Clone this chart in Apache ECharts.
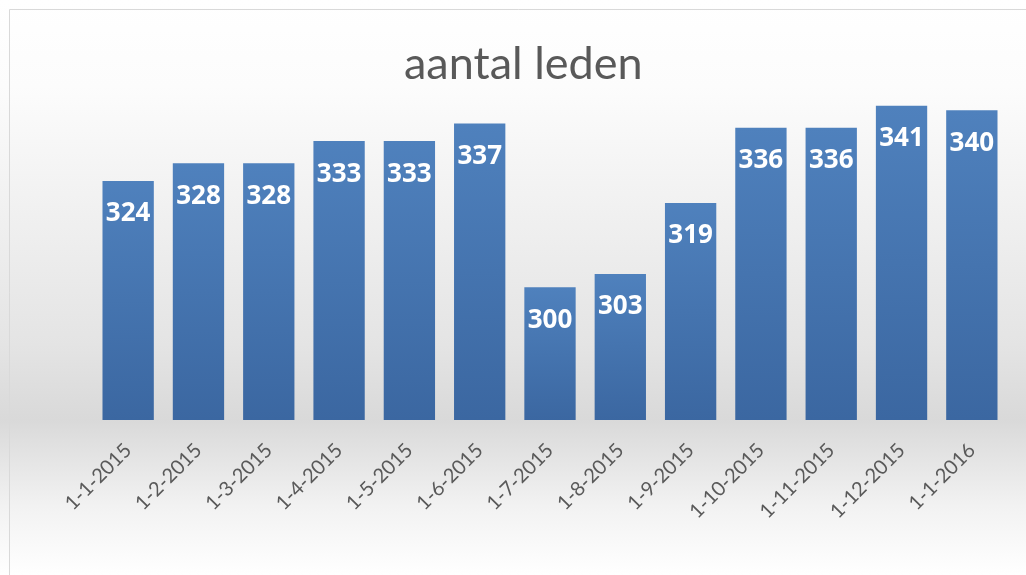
<!DOCTYPE html>
<html>
<head>
<meta charset="utf-8">
<title>aantal leden</title>
<script src="https://cdn.jsdelivr.net/npm/echarts@6/dist/echarts.min.js"></script>
<style>
  html, body { margin: 0; padding: 0; background: #fff; }
  #main { width: 1026px; height: 575px; }
</style>
</head>
<body>
<div id="main"></div>
<script>
// data
const maanden = ['1-1-2015', '1-2-2015', '1-3-2015', '1-4-2015', '1-5-2015', '1-6-2015',
  '1-7-2015', '1-8-2015', '1-9-2015', '1-10-2015', '1-11-2015', '1-12-2015', '1-1-2016'];
const leden = [324, 328, 328, 333, 333, 337, 300, 303, 319, 336, 336, 341, 340];

const myChart = echarts.init(document.getElementById('main'));

const option = {
  animation: false,
  backgroundColor: {
    type: 'linear', x: 0, y: 0, x2: 0, y2: 1,
    colorStops: [
      { offset: 0, color: '#ffffff' },
      { offset: 0.15, color: '#fcfcfc' },
      { offset: 0.6, color: '#e4e4e4' },
      { offset: 0.73, color: '#d9d9d9' },
      { offset: 0.88, color: '#f2f2f2' },
      { offset: 1, color: '#ffffff' }
    ]
  },
  graphic: [
    {
      type: 'rect',
      shape: { x: 9.5, y: 9.5, width: 1030, height: 600 },
      style: { fill: 'none', stroke: '#d9d9d9', lineWidth: 1 },
      silent: true
    }
  ],
  title: {
    text: 'aantal leden',
    left: 399,
    top: 37,
    textStyle: {
      fontFamily: 'Lato',
      fontWeight: 'normal',
      fontSize: 45,
      color: '#595959'
    }
  },
  grid: { left: 93, right: 19, top: 88, bottom: 155 },
  xAxis: {
    type: 'category',
    data: maanden,
    axisLine: { show: false },
    axisTick: { show: false },
    axisLabel: {
      rotate: 45,
      margin: 27,
      interval: 0,
      fontFamily: 'Lato',
      fontSize: 20,
      color: '#595959'
    }
  },
  yAxis: {
    type: 'value',
    min: 270,
    max: 345,
    show: false,
    splitLine: { show: false }
  },
  series: [
    {
      name: 'aantal leden',
      type: 'bar',
      data: leden,
      barCategoryGap: '27%',
      itemStyle: {
        color: new echarts.graphic.LinearGradient(0, 0, 0, 1, [
          { offset: 0, color: '#4f81bd' },
          { offset: 1, color: '#3b67a1' }
        ])
      },
      label: {
        show: true,
        position: 'insideTop',
        distance: 20,
        fontFamily: '"Liberation Sans Narrow", "Open Sans", sans-serif',
        fontWeight: 'bold',
        fontSize: 26,
        color: '#ffffff'
      }
    }
  ]
};
myChart.setOption(option);
window.addEventListener('resize', function () {
  myChart.resize();
});
</script>
</body>
</html>
